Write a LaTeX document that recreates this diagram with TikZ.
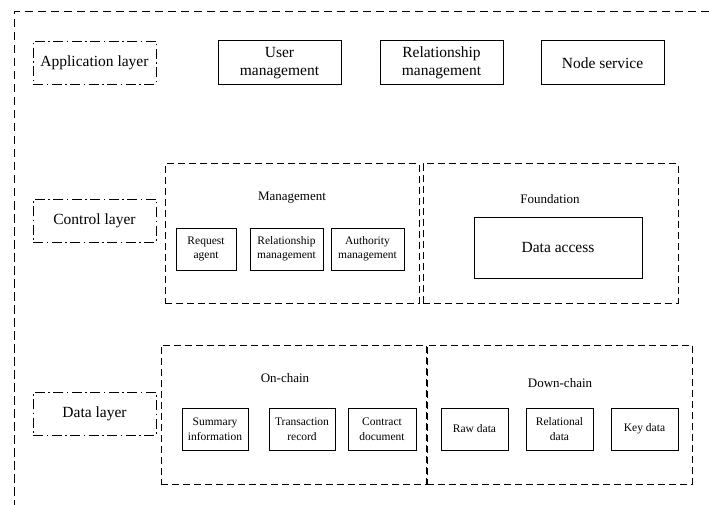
\documentclass[tikz,border=0pt]{standalone}
\usepackage{fontspec}
\setmainfont{Liberation Serif}
\newcommand{\bigtext}{\fontsize{15.5}{18}\selectfont}
\newcommand{\midtext}{\fontsize{13}{15.5}\selectfont}
\newcommand{\smalltext}{\fontsize{11.5}{14.5}\selectfont}
\begin{document}
\begin{tikzpicture}[x=1pt,y=-1pt,
  layerbox/.style={draw,line width=0.9pt,dash pattern=on 10pt off 3.5pt on 1.5pt off 3.5pt,
    minimum width=123pt,minimum height=43pt,inner sep=0pt,font=\bigtext},
  bigbox/.style={draw,line width=1pt,minimum width=123pt,minimum height=44pt,
    inner sep=0pt,align=center,font=\bigtext},
  groupbox/.style={draw,line width=1pt,dash pattern=on 7pt off 4pt,
    minimum height=139pt,inner sep=0pt},
  grouplabel/.style={inner sep=0pt,font=\midtext},
  smallbox/.style={draw,line width=1pt,minimum height=42pt,inner sep=0pt,
    align=center,font=\smalltext}]
\useasboundingbox (0,0) rectangle (709,505);
% outer frame
\coordinate (frameR) at (709,12);
\coordinate (frameTL) at (14,12);
\coordinate (frameB) at (14,505);
\draw[line width=1pt,dash pattern=on 8.5pt off 4.5pt] (frameR) -- (frameTL) -- (frameB);
% layers
\node[layerbox] (applayer) at (94.5,62.5) {Application layer};
\node[layerbox] (ctrllayer) at (94.5,220.5) {Control layer};
\node[layerbox] (datalayer) at (94.5,413.5) {Data layer};
% application layer
\node[bigbox] (usermgmt) at (279.5,63) {User\\management};
\node[bigbox] (relmgmt) at (441.5,63) {Relationship\\management};
\node[bigbox] (nodesrv) at (602.5,63) {Node service};
% control layer
\node[groupbox,minimum width=254pt] (mgmt) at (292,233.5) {};
\node[groupbox,minimum width=255pt] (found) at (550.5,233.5) {};
\node[grouplabel] (mgmtlabel) at (292,198) {Management};
\node[grouplabel] (foundlabel) at (550,199) {Foundation};
\node[smallbox,minimum width=60pt] (reqagent) at (206,249) {Request\\agent};
\node[smallbox,minimum width=73pt] (relmgmtb) at (286.5,249) {Relationship\\management};
\node[smallbox,minimum width=73pt] (authmgmt) at (367.5,249) {Authority\\management};
\node[bigbox,minimum width=168pt,minimum height=61pt] (dataacc) at (558,247.5) {Data access};
% data layer
\node[groupbox,minimum width=265pt] (onchain) at (293.5,414.5) {};
\node[groupbox,minimum width=265pt] (downchain) at (559.5,414.5) {};
\node[grouplabel] (onlabel) at (285,378) {On-chain};
\node[grouplabel] (downlabel) at (560,383) {Down-chain};
\node[smallbox,minimum width=66pt] (summary) at (215,429) {Summary\\information};
\node[smallbox,minimum width=66pt] (trans) at (302,429) {Transaction\\record};
\node[smallbox,minimum width=68pt] (contract) at (382,429) {Contract\\document};
\node[smallbox,minimum width=67pt] (rawdata) at (474.5,429) {Raw data};
\node[smallbox,minimum width=67pt] (reldata) at (559.5,429) {Relational\\data};
\node[smallbox,minimum width=67pt] (keydata) at (644.5,429) {Key data};
\end{tikzpicture}
\end{document}
